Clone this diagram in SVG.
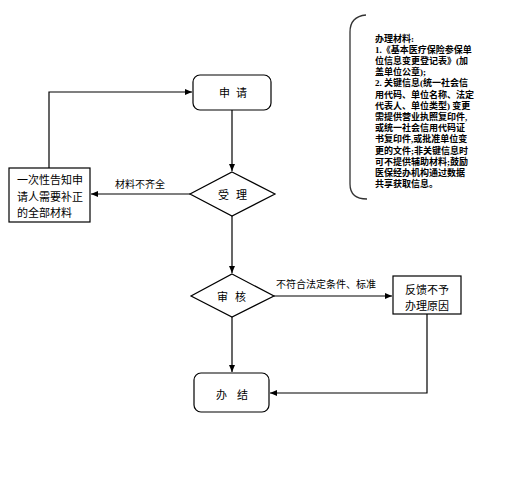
<svg xmlns="http://www.w3.org/2000/svg" width="521" height="477" viewBox="0 0 521 477">
<style>
.ln{fill:none;stroke:#000;stroke-width:1.2}
.bx{fill:#fff;stroke:#000;stroke-width:1.2}
.t{font-family:"Liberation Serif","Noto Sans CJK SC",serif;fill:#000}
.m{font-size:11px}
.s{font-size:10px}
.n{font-size:9px;font-weight:bold}
</style>
<defs>
<marker id="ah" markerWidth="8" markerHeight="8" refX="7" refY="4" orient="auto" markerUnits="userSpaceOnUse">
<path d="M0,1 L7,4 L0,7 Z" fill="#000"/>
</marker>
</defs>
<rect width="521" height="477" fill="#fff"/>
<g id="connectors">
<path class="ln" d="M232,110 V171" marker-end="url(#ah)"/>
<path class="ln" d="M190,194 H91" marker-end="url(#ah)"/>
<path class="ln" d="M49,168 V92 H192" marker-end="url(#ah)"/>
<path class="ln" d="M232,216 V273" marker-end="url(#ah)"/>
<path class="ln" d="M274,296 H392" marker-end="url(#ah)"/>
<path class="ln" d="M232,317 V372" marker-end="url(#ah)"/>
<path class="ln" d="M427,314 V393 H270" marker-end="url(#ah)"/>
<text class="t s" x="115" y="188">材料不齐全</text>
<text class="t s" x="276" y="288">不符合法定条件、标准</text>
</g>
<g id="apply">
<rect class="bx" x="193" y="75" width="78" height="35" rx="7"/>
<text class="t m" y="97"><tspan x="219">申</tspan><tspan x="236">请</tspan></text>
</g>
<g id="accept">
<path class="bx" d="M232,172 L275,194 L232,216 L190,194 Z"/>
<text class="t m" y="199"><tspan x="218">受</tspan><tspan x="236">理</tspan></text>
</g>
<g id="notify">
<rect class="bx" x="9" y="168" width="81" height="54"/>
<text class="t m" x="17" y="184">一次性告知申</text>
<text class="t m" x="17" y="201">请人需要补正</text>
<text class="t m" x="17" y="217">的全部材料</text>
</g>
<g id="review">
<path class="bx" d="M232,274 L274,296 L232,317 L191,296 Z"/>
<text class="t m" y="301"><tspan x="217">审</tspan><tspan x="235">核</tspan></text>
</g>
<g id="feedback">
<rect class="bx" x="393" y="276" width="68" height="38"/>
<text class="t m" x="427" y="294" text-anchor="middle">反馈不予</text>
<text class="t m" x="427" y="310" text-anchor="middle">办理原因</text>
</g>
<g id="finish">
<rect class="bx" x="194" y="373" width="75" height="39" rx="7"/>
<text class="t m" y="399"><tspan x="216">办</tspan><tspan x="237">结</tspan></text>
</g>
<g id="materials">
<path d="M366,15 C355,16 350,22 350,32 L350,184 C350,194 356,199 367,199" fill="none" stroke="#333" stroke-width="1.3"/>
<text class="t n" x="375" y="41.5">办理材料:</text>
<text class="t n" x="375" y="52.7">1.《基本医疗保险参保单</text>
<text class="t n" x="375" y="63.9">位信息变更登记表》(加</text>
<text class="t n" x="375" y="75.1">盖单位公章);</text>
<text class="t n" x="375" y="86.3">2. 关键信息(统一社会信</text>
<text class="t n" x="375" y="97.5">用代码、单位名称、法定</text>
<text class="t n" x="375" y="108.7">代表人、单位类型) 变更</text>
<text class="t n" x="375" y="119.9">需提供营业执照复印件,</text>
<text class="t n" x="375" y="131.1">或统一社会信用代码证</text>
<text class="t n" x="375" y="142.3">书复印件,或批准单位变</text>
<text class="t n" x="375" y="153.5">更的文件;非关键信息时</text>
<text class="t n" x="375" y="164.7">可不提供辅助材料;鼓励</text>
<text class="t n" x="375" y="175.9">医保经办机构通过数据</text>
<text class="t n" x="375" y="187.1">共享获取信息。</text>
</g>
</svg>
